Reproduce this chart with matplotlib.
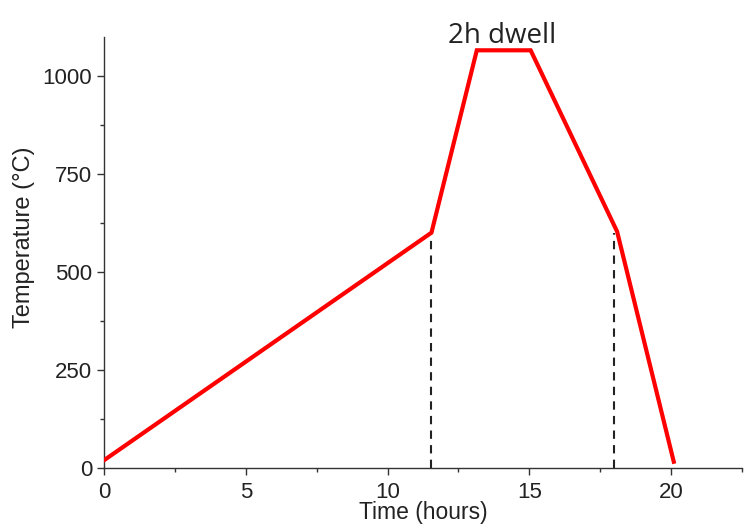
import matplotlib
matplotlib.use("Agg")
import matplotlib.pyplot as plt
from matplotlib.ticker import MultipleLocator

time_h = [0, 11.55, 13.15, 15.05, 18.1, 20.1]
temp_c = [20, 600, 1065, 1065, 603, 16]
dash_x = [11.55, 18.0]
dash_top = [600, 600]
annot_text = "2h dwell"

plt.rcParams['font.family'] = ['Liberation Sans', 'DejaVu Sans']

fig = plt.figure(figsize=(7.44, 5.30), dpi=100)
ax = fig.add_axes([0.140, 0.117, 0.857, 0.814])

for xv, yt in zip(dash_x, dash_top):
    ax.plot([xv, xv], [0, yt], color='#222222', lw=1.5, ls=(0, (4, 3)), zorder=2)
ax.plot(time_h, temp_c, color='#ff0000', lw=3.0, solid_joinstyle='miter', zorder=3)

ax.set_xlim(0, 22.5)
ax.set_ylim(0, 1100)
ax.xaxis.set_major_locator(MultipleLocator(5))
ax.xaxis.set_minor_locator(MultipleLocator(2.5))
ax.yaxis.set_major_locator(MultipleLocator(250))
ax.yaxis.set_minor_locator(MultipleLocator(125))

for s in ['top', 'right']:
    ax.spines[s].set_visible(False)
for s in ['left', 'bottom']:
    ax.spines[s].set_color('#333333')
    ax.spines[s].set_linewidth(1.0)

ax.tick_params(which='major', direction='out', length=5, width=1, colors='#333333',
               labelsize=16, labelcolor='#222222')
ax.tick_params(axis='x', which='major', pad=5)
ax.tick_params(which='minor', direction='out', length=3, width=1, colors='#333333')

ax.set_xlabel('Time (hours)', fontsize=16.5, color='#222222', labelpad=-1)
ax.set_ylabel('Temperature (°C)', fontsize=17, color='#222222')
ax.yaxis.set_label_coords(-0.108, 0.535)

ax.text(14.05, 1083, annot_text, fontsize=20, family=['Open Sans', 'DejaVu Sans'],
        color='#222222', ha='center', va='baseline', clip_on=False)

fig.savefig('out.png', dpi=100)
